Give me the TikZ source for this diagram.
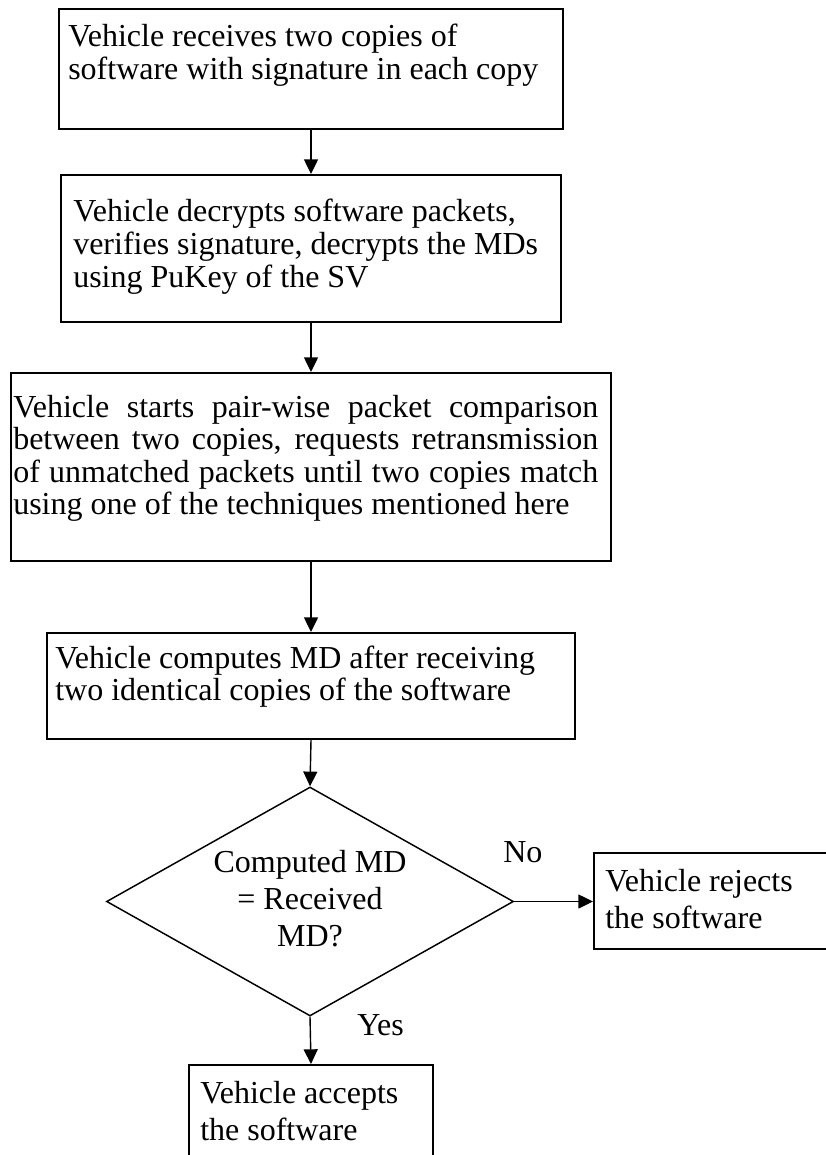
\documentclass[tikz,border=0pt]{standalone}
\usepackage{fontspec}
\setmainfont{Liberation Serif}
\usetikzlibrary{shapes.geometric,arrows.meta}
% one drawing unit = one pixel of the 825 x 1155 sheet
\newdimen\pxd \pxd=0.75pt
\tikzset{
  stepbox/.style={draw, rectangle, line width=1.5pt, inner sep=0pt, anchor=north west},
  decide/.style={draw, diamond, line width=1.1pt, inner sep=0pt},
  txt/.style={inner sep=0pt, anchor=base west, font=\fontsize{24pt}{24.4pt}\selectfont},
  flow/.style={line width=1.05pt, -{Triangle[length=11pt,width=10.5pt]}},
}
\begin{document}
\begin{tikzpicture}[x=0.75pt, y=-0.75pt]
\useasboundingbox (0,0) rectangle (825,1155);
\fill[white] (0,0) rectangle (825,1155);

% process boxes
\node[stepbox, minimum width=378pt, minimum height=90pt] (b1) at (58,8) {};
\node[stepbox, minimum width=375pt, minimum height=110.25pt] (b2) at (60,174) {};
\node[stepbox, minimum width=450pt, minimum height=141pt] (b3) at (10,372) {};
\node[stepbox, minimum width=396pt, minimum height=79.5pt] (b4) at (46,632) {};
\node[decide, minimum width=305.25pt, minimum height=171.75pt] (dec) at (310,901.5) {};
\node[stepbox, minimum width=183pt, minimum height=84pt] (b5) at (188,1064) {};
\node[stepbox, minimum width=180pt, minimum height=72pt] (rej) at (593,852) {};

% box texts
\node[txt] (t1) at (68,47) {\parbox[t]{490\pxd}{\raggedright
  Vehicle receives two copies of\\
  software with signature in each copy}};
\node[txt] (t2) at (73,222) {\parbox[t]{485\pxd}{\raggedright
  Vehicle decrypts software packets,\\
  verifies signature, decrypts the MDs\\
  using PuKey of the SV}};
\node[txt] (t3) at (13,417) {\parbox[t]{585\pxd}{%
  \makebox[\linewidth][s]{Vehicle starts pair-wise packet comparison}\\
  \makebox[\linewidth][s]{between two copies, requests retransmission}\\
  \makebox[\linewidth][s]{of unmatched packets until two copies match}\\
  using one of the techniques mentioned here}};
\node[txt] (t4) at (55,668) {\parbox[t]{510\pxd}{\raggedright
  Vehicle computes MD after receiving\\
  two identical copies of the software}};
\node[txt, anchor=base] (td) at (310,872) {\parbox[t]{260\pxd}{\centering
  \fontsize{24pt}{28.1pt}\selectfont
  Computed MD\\= Received\\MD?}};
\node[txt] (t5) at (200,1103) {\parbox[t]{230\pxd}{\raggedright
  \fontsize{24pt}{27.75pt}\selectfont
  Vehicle accepts\\the software}};
\node[txt] (tr) at (605,891) {\parbox[t]{215\pxd}{\raggedright
  \fontsize{24pt}{27.75pt}\selectfont
  Vehicle rejects\\the software}};

% branch labels
\node[txt] (lno) at (503,862) {No};
\node[txt] (lyes) at (357,1035) {Yes};

% connectors
\draw[flow] (b1.south) -- (b2.north);
\draw[flow] (b2.south) -- (b3.north);
\draw[flow] (b3.south) -- (b4.north);
\draw[flow] (b4.south) -- (dec.north);
\draw[flow] (dec.south) -- (b5.north);
\draw[flow] (dec.east) -- (dec.east -| rej.west);
\end{tikzpicture}
\end{document}
